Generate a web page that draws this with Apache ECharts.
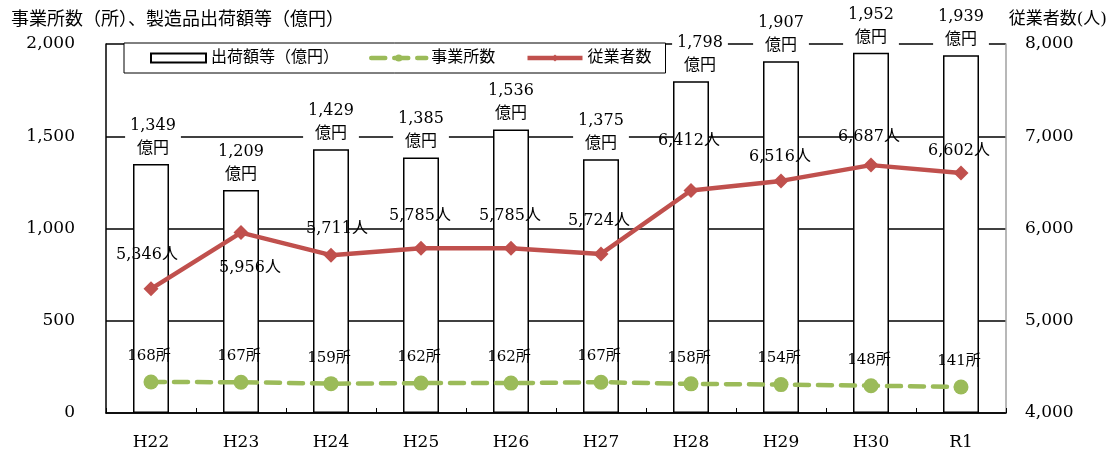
<!DOCTYPE html>
<html>
<head>
<meta charset="utf-8">
<script src="https://cdn.jsdelivr.net/npm/echarts@6/dist/echarts.min.js"></script>
<style>
html,body{margin:0;padding:0;background:#fff;}
#chart{width:1120px;height:451px;}
</style>
</head>
<body>
<div id="chart"></div>
<script>
// ---- data ----
const categories = ['H22','H23','H24','H25','H26','H27','H28','H29','H30','R1'];
const shipments = [1349,1209,1429,1385,1536,1375,1798,1907,1952,1939];   // 出荷額等（億円）
const establishments = [168,167,159,162,162,167,158,154,148,141];     // 事業所数
const employees = [5346,5956,5711,5785,5785,5724,6412,6516,6687,6602]; // 従業者数
const leftTicks = {min:0, max:2000, interval:500};
const rightTicks = {min:4000, max:8000, interval:1000};

// ---- label placement (styling only) ----
const employeeLabelOffsets = [[-4,-34],[9,35],[6,-26],[-1,-32],[-1,-32],[-2,-33],[-2,-50],[-1,-24],[-2,-28],[-2,-22]];
const shipmentLabelOffsets = [[2,0],[0,0],[0,0],[0,0],[0,0],[0,0],[9,0],[0,0],[0,0],[0,0]];

const SERIF = "'DejaVu Serif','Liberation Serif','Noto Sans CJK JP',serif";
const fmt = v => String(v).replace(/\B(?=(\d{3})+(?!\d))/g, ',');

const chart = echarts.init(document.getElementById('chart'));
chart.setOption({
  animation: false,
  backgroundColor: '#fff',
  textStyle: {fontFamily: SERIF, color: '#000'},
  title: [
    {text: '事業所数（所）、製造品出荷額等（億円）', left: 6, top: 6,
     textStyle: {fontSize: 18, fontWeight: 'normal', color: '#000', fontFamily: SERIF}},
    {text: '従業者数(人)', right: 8, top: 6,
     textStyle: {fontSize: 17, fontWeight: 'normal', color: '#000', fontFamily: SERIF}}
  ],
  legend: {
    left: 124, top: 43,
    padding: [7, 14, 7, 26],
    itemGap: 30,
    itemWidth: 55, itemHeight: 9,
    borderColor: '#000', borderWidth: 1,
    backgroundColor: '#fff',
    lineStyle: {width: 'inherit'},
    textStyle: {fontSize: 16, color: '#000', fontFamily: SERIF},
    data: [
      {name: '出荷額等（億円）', icon: 'rect'},
      {name: '事業所数'},
      {name: '従業者数'}
    ]
  },
  grid: {left: 106, right: 114, top: 44, bottom: 38},
  xAxis: {
    type: 'category',
    data: categories,
    axisLine: {lineStyle: {color: '#000', width: 1.5}},
    axisTick: {show: true, inside: true, length: 5, lineStyle: {color: '#000'}},
    axisLabel: {fontSize: 17, color: '#000', margin: 21, fontFamily: SERIF}
  },
  yAxis: [
    {
      type: 'value', min: leftTicks.min, max: leftTicks.max, interval: leftTicks.interval,
      axisLine: {show: true, lineStyle: {color: '#000', width: 1.5}},
      axisTick: {show: false},
      splitLine: {show: true, lineStyle: {color: '#000', width: 1.5}},
      axisLabel: {fontSize: 17, color: '#000', margin: 31, formatter: fmt, fontFamily: SERIF}
    },
    {
      type: 'value', min: rightTicks.min, max: rightTicks.max, interval: rightTicks.interval,
      axisLine: {show: true, lineStyle: {color: '#a0a0a0', width: 1.5}},
      axisTick: {show: false},
      splitLine: {show: false},
      axisLabel: {fontSize: 17, color: '#000', margin: 19, formatter: fmt, fontFamily: SERIF}
    }
  ],
  series: [
    {
      name: '出荷額等（億円）',
      type: 'bar',
      data: shipments.map((v, i) => ({value: v, label: {offset: shipmentLabelOffsets[i]}})),
      barWidth: 36,
      itemStyle: {color: '#fff', borderColor: '#000', borderWidth: 1.5},
      label: {
        show: true, position: 'top', distance: 4,
        fontSize: 16, lineHeight: 23, color: '#000', fontFamily: SERIF,
        backgroundColor: '#fff', padding: [0, 5],
        formatter: p => fmt(p.value) + '\n億円'
      },
      z: 2
    },
    {
      name: '事業所数',
      type: 'line',
      yAxisIndex: 0,
      data: establishments,
      symbol: 'circle', symbolSize: 15,
      lineStyle: {color: '#9BBB59', width: 4.5, type: [14, 9], cap: 'round'},
      itemStyle: {color: '#9BBB59'},
      label: {
        show: true, position: 'inside', offset: [-2, -26],
        fontSize: 15, color: '#000', fontFamily: SERIF,
        formatter: p => p.value + '所'
      },
      z: 4
    },
    {
      name: '従業者数',
      type: 'line',
      yAxisIndex: 1,
      data: employees.map((v, i) => ({
        value: v,
        label: {offset: employeeLabelOffsets[i]}
      })),
      symbol: 'diamond', symbolSize: 15,
      lineStyle: {color: '#C0504D', width: 4.5},
      itemStyle: {color: '#C0504D'},
      label: {
        show: true, position: 'inside',
        fontSize: 16, color: '#000', fontFamily: SERIF,
        formatter: p => fmt(p.value) + '人'
      },
      z: 5
    }
  ]
});
</script>
</body>
</html>
